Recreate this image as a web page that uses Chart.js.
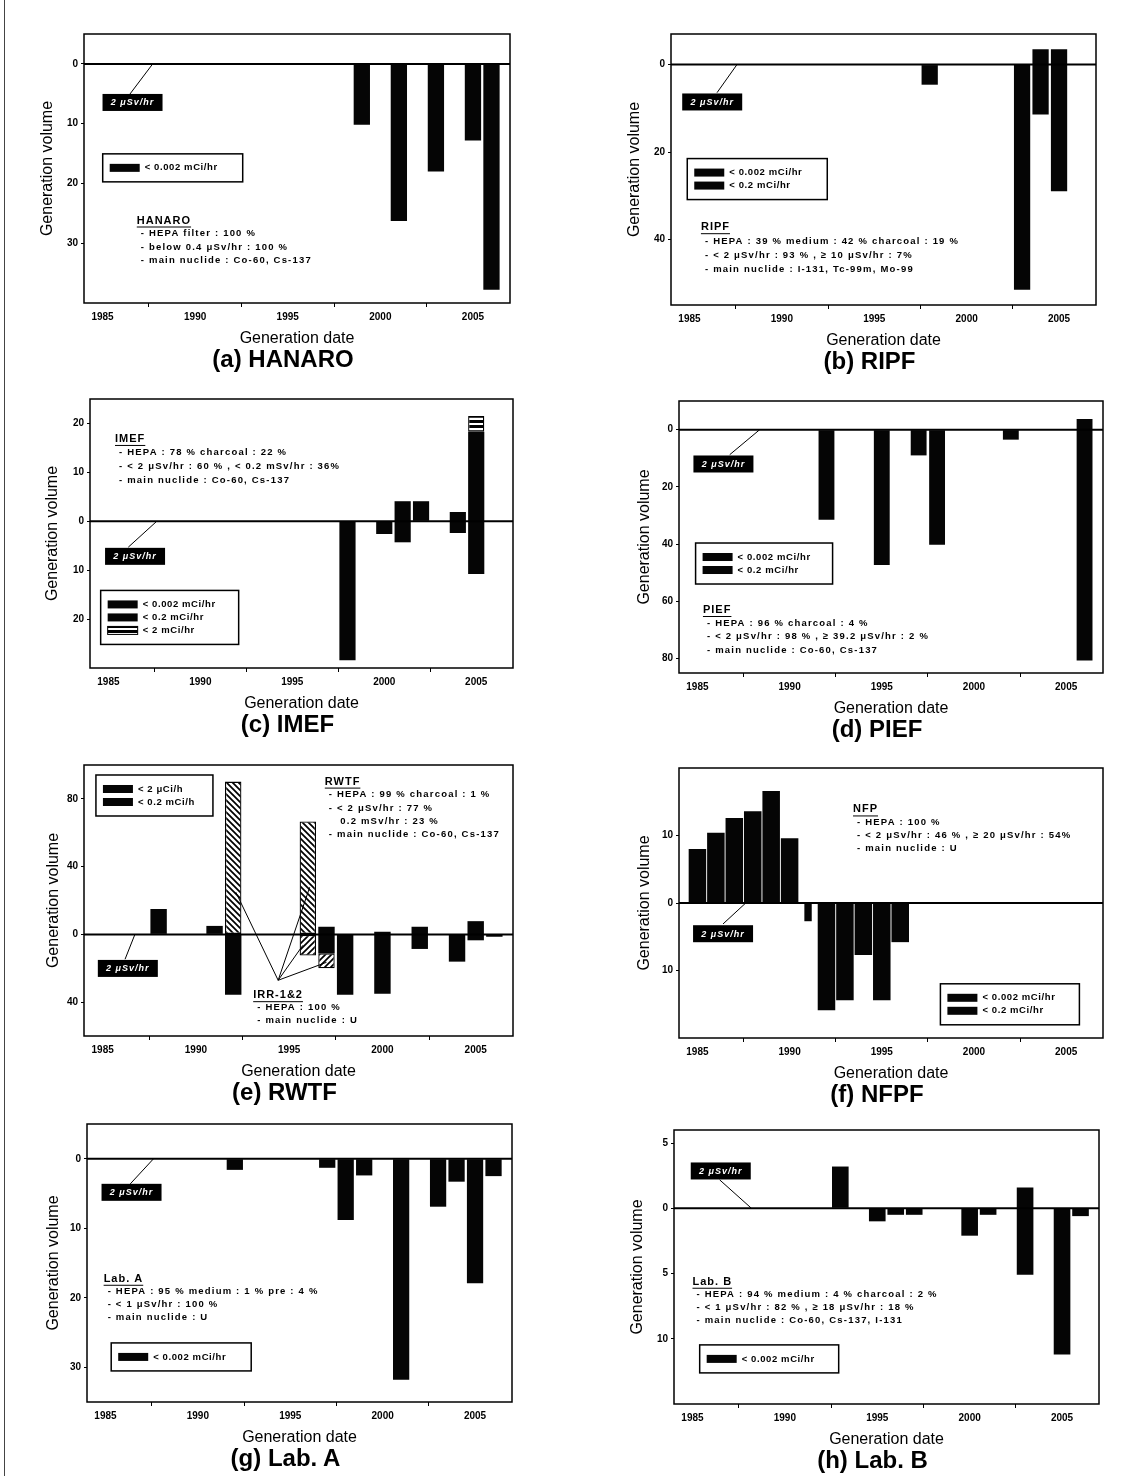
<!DOCTYPE html>
<html>
<head>
<meta charset="utf-8">
<script src="https://cdn.jsdelivr.net/npm/chart.js@4.4.1/dist/chart.umd.min.js"></script>
<style>
  body { margin: 0; background: #fff; }
  #page { position: relative; width: 1131px; height: 1476px; overflow: hidden; background: #fff; }
  #page canvas { position: absolute; }
  .cap { position: absolute; width: 300px; text-align: center; font: bold 24px 'Liberation Sans', Arial, sans-serif; line-height: 28px; color: #000; }
  .frame { position: absolute; left: 4px; top: 0; width: 1px; height: 1476px; background: #444; }
</style>
</head>
<body>
<div id="page"><div class="frame"></div></div>
<script>
const FONT = "'Liberation Sans', Arial, sans-serif";

const xTickYears = [1985, 1990, 1995, 2000, 2005];

// (a) HANARO
const hanaroYears = [1999, 2001, 2003, 2005, 2006];
const hanaroLow = [-10.2, -26.3, -18, -12.8, -37.8];
const hanaroHigh = [0, 0, 0, 0, 0];
const hanaroYTicks = [0, -10, -20, -30];

// (b) RIPF
const ripfYears = [1998, 2003, 2004, 2005];
const ripfLow = [-4.6, -51.5, -11.4, -29];
const ripfHigh = [0, 0, 3.5, 3.5];
const ripfYTicks = [0, -20, -40];

// (c) IMEF
const imefYears = [1998, 2000, 2001, 2002, 2004, 2005];
const imefLow = [-28.4, -2.6, -4.3, 0, -2.4, -10.8];
const imefHigh = [0, 0, 4.1, 4.1, 1.9, 18.3];
const imefStripeYears = [2005];
const imefStripeLow = [18.3];
const imefStripeHigh = [21.5];
const imefYTicks = [20, 10, 0, -10, -20];

// (d) PIEF
const piefYears = [1992, 1995, 1997, 1998, 2002, 2006];
const piefLow = [-31.5, -47.3, -9, -40.2, -3.5, -80.6];
const piefHigh = [0, 0, 0, 0, 0, 3.7];
const piefYTicks = [0, -20, -40, -60, -80];

// (e) RWTF
const rwtfYears = [1988, 1991, 1992, 1997, 1998, 2000, 2002, 2004, 2005, 2006];
const rwtfLow = [0, 0, -35.7, -11.2, -35.7, -35.1, -8.6, -16.1, -3.5, -1.4];
const rwtfHigh = [15, 5, 0, 4.5, 0, 1.6, 4.5, 0, 7.8, 0];
const irrUpperYears = [1992, 1996];
const irrUpperLow = [0, 0];
const irrUpperHigh = [90.2, 66.7];
const irrLowerYears = [1996, 1997];
const irrLowerLow = [-12.5, -20];
const irrLowerHigh = [0, -11.2];
const rwtfYTicks = [80, 40, 0, -40];

// (f) NFPF
const nfpfYears = [1985, 1986, 1987, 1988, 1989, 1990, 1992, 1993, 1994, 1995, 1996];
const nfpfLow = [0, 0, 0, 0, 0, 0, -15.9, -14.4, -7.7, -14.4, -5.8];
const nfpfHigh = [8, 10.4, 12.6, 13.6, 16.6, 9.6, 0, 0, 0, 0, 0];
const nfpfThinYears = [1991];
const nfpfThinLow = [-2.7];
const nfpfThinHigh = [0];
const nfpfYTicks = [10, 0, -10];

// (g) Lab. A
const labAYears = [1992, 1997, 1998, 1999, 2001, 2003, 2004, 2005, 2006];
const labALow = [-1.6, -1.3, -8.8, -2.4, -31.8, -6.9, -3.3, -17.9, -2.5];
const labAHigh = [0, 0, 0, 0, 0, 0, 0, 0, 0];
const labAYTicks = [0, -10, -20, -30];

// (h) Lab. B
const labBYears = [1993, 1995, 1996, 1997, 2000, 2001, 2003, 2005, 2006];
const labBLow = [0, -1, -0.5, -0.5, -2.1, -0.5, -5.1, -11.2, -0.6];
const labBHigh = [3.2, 0, 0, 0, 0, 0, 1.6, 0, 0];
const labBYTicks = [5, 0, -5, -10];

// hatch fills
function makePattern(kind) {
  const c = document.createElement('canvas');
  c.width = 6; c.height = kind === 'stripe' ? 5 : 6;
  const g = c.getContext('2d');
  g.fillStyle = '#fff';
  g.fillRect(0, 0, c.width, c.height);
  g.fillStyle = '#000';
  g.strokeStyle = '#000';
  g.lineWidth = 1.7;
  g.beginPath();
  if (kind === 'back') {
    g.moveTo(-1, -1); g.lineTo(7, 7);
    g.moveTo(-1, 5); g.lineTo(1, 7);
    g.moveTo(5, -1); g.lineTo(7, 1);
    g.stroke();
  } else if (kind === 'fwd') {
    g.moveTo(-1, 7); g.lineTo(7, -1);
    g.moveTo(-1, 1); g.lineTo(1, -1);
    g.moveTo(5, 7); g.lineTo(7, 5);
    g.stroke();
  } else {
    g.fillRect(0, 0, 6, 3);
  }
  return g.createPattern(c, 'repeat');
}
const fills = { solid: '#050505', back: makePattern('back'), fwd: makePattern('fwd'), stripe: makePattern('stripe') };

function bars(label, years, low, high, fill, pct) {
  return {
    label: label,
    data: years.map((yr, i) => ({ x: yr, y: [low[i], high[i]] })),
    backgroundColor: fills[fill],
    borderColor: '#000',
    borderWidth: fill === 'solid' ? 0 : 1.3,
    borderSkipped: false,
    grouped: false,
    categoryPercentage: 1,
    barPercentage: pct || 0.88
  };
}

// draws frame, zero line and the in-plot notes
const annotate = {
  id: 'annotate',
  afterDraw(chart, args, o) {
    const { ctx, chartArea: a } = chart;
    const px = v => chart.scales.x.getPixelForValue(v);
    const py = v => chart.scales.y.getPixelForValue(v);
    ctx.save();
    ctx.strokeStyle = '#000';
    ctx.fillStyle = '#000';

    ctx.lineWidth = 2;
    ctx.beginPath();
    ctx.moveTo(a.left, py(0));
    ctx.lineTo(a.right, py(0));
    ctx.stroke();

    ctx.lineWidth = 1.5;
    ctx.strokeRect(a.left, a.top, a.width, a.height);

    // leader lines
    ctx.lineWidth = 1;
    const t = o.tag;
    const links = (o.links || []).concat([[t.from[0], t.from[1], t.to[0], t.to[1]]]);
    links.forEach(l => {
      ctx.beginPath();
      ctx.moveTo(px(l[0]), py(l[1]));
      ctx.lineTo(px(l[2]), py(l[3]));
      ctx.stroke();
    });

    // level tag
    const tx = px(t.x), ty = py(t.y);
    ctx.fillRect(tx - 30, ty - 8.5, 60, 17);
    ctx.fillStyle = '#fff';
    ctx.font = 'italic bold 9px ' + FONT;
    ctx.letterSpacing = '1px';
    ctx.textAlign = 'center';
    ctx.textBaseline = 'middle';
    ctx.fillText('2 μSv/hr', tx, ty + 0.5);

    // legend box
    const lg = o.legend;
    const lx = px(lg.x), ly = py(lg.y);
    const lh = 28 + 13 * (lg.items.length - 1);
    ctx.fillStyle = '#fff';
    ctx.fillRect(lx, ly, lg.w, lh);
    ctx.lineWidth = 1.5;
    ctx.strokeRect(lx, ly, lg.w, lh);
    ctx.font = 'bold 9.5px ' + FONT;
    ctx.letterSpacing = '0.6px';
    ctx.textAlign = 'left';
    lg.items.forEach((it, i) => {
      const cy = ly + 14 + 13 * i;
      ctx.fillStyle = fills[it.fill];
      ctx.fillRect(lx + 7, cy - 4, 30, 8);
      if (it.fill !== 'solid') {
        ctx.lineWidth = 1;
        ctx.strokeRect(lx + 7, cy - 4, 30, 8);
      }
      ctx.fillStyle = '#000';
      ctx.fillText(it.label, lx + 42, cy);
    });

    // facility notes
    (o.notes || []).forEach(n => {
      const nx = px(n.x), ny = py(n.y);
      ctx.fillStyle = '#000';
      ctx.font = 'bold 11px ' + FONT;
      ctx.letterSpacing = '1px';
      ctx.fillText(n.title, nx, ny);
      const w = ctx.measureText(n.title).width;
      ctx.lineWidth = 1;
      ctx.beginPath();
      ctx.moveTo(nx, ny + 6.5);
      ctx.lineTo(nx + w, ny + 6.5);
      ctx.stroke();
      ctx.font = 'bold 9.5px ' + FONT;
      ctx.letterSpacing = '1.2px';
      n.lines.forEach((s, i) => ctx.fillText(s, nx + 4, ny + n.gap * (i + 1)));
    });
    ctx.letterSpacing = '0px';
    ctx.restore();
  }
};

const panels = [
  {
    name: '(a) HANARO', rect: [84, 33, 510, 303], gap: 36, yMin: -40, yMax: 5, yTicks: hanaroYTicks,
    datasets: [bars('< 0.002 mCi/hr', hanaroYears, hanaroLow, hanaroHigh, 'solid')],
    notes: {
      tag: { x: 1986.62, y: -6.45, from: [1986.48, -5.05], to: [1987.71, 0] },
      legend: { x: 1985.01, y: -15.05, w: 140, items: [{ label: '< 0.002 mCi/hr', fill: 'solid' }] },
      notes: [{ x: 1986.85, y: -26.2, gap: 13.3, title: 'HANARO',
        lines: ['- HEPA filter : 100 %', '- below 0.4 μSv/hr : 100 %', '- main nuclide : Co-60, Cs-137'] }]
    }
  },
  {
    name: '(b) RIPF', rect: [671, 33, 1096, 305], gap: 36, yMin: -55, yMax: 7, yTicks: ripfYTicks,
    datasets: [bars('< 0.002 mCi/hr', ripfYears, ripfLow, ripfHigh, 'solid')],
    notes: {
      tag: { x: 1986.23, y: -8.55, from: [1986.49, -6.43], to: [1987.57, 0] },
      legend: { x: 1984.88, y: -21.5, w: 140, items: [{ label: '< 0.002 mCi/hr', fill: 'solid' }, { label: '< 0.2 mCi/hr', fill: 'solid' }] },
      notes: [{ x: 1985.62, y: -37.2, gap: 14, title: 'RIPF',
        lines: ['- HEPA : 39 % medium : 42 % charcoal : 19 %', '- < 2 μSv/hr : 93 % , ≥ 10 μSv/hr : 7%', '- main nuclide : I-131, Tc-99m, Mo-99'] }]
    }
  },
  {
    name: '(c) IMEF', rect: [90, 398, 513, 668], gap: 37, yMin: -30, yMax: 25, yTicks: imefYTicks,
    datasets: [
      bars('< 0.002 mCi/hr', imefYears, imefLow, imefHigh, 'solid'),
      bars('< 2 mCi/hr', imefStripeYears, imefStripeLow, imefStripeHigh, 'stripe')
    ],
    notes: {
      tag: { x: 1986.45, y: -7.17, from: [1986.08, -5.3], to: [1987.63, 0] },
      legend: { x: 1984.58, y: -14.14, w: 138, items: [{ label: '< 0.002 mCi/hr', fill: 'solid' }, { label: '< 0.2 mCi/hr', fill: 'solid' }, { label: '< 2 mCi/hr', fill: 'stripe' }] },
      notes: [{ x: 1985.36, y: 16.83, gap: 13.7, title: 'IMEF',
        lines: ['- HEPA : 78 % charcoal : 22 %', '- < 2 μSv/hr : 60 % , < 0.2 mSv/hr : 36%', '- main nuclide : Co-60, Cs-137'] }]
    }
  },
  {
    name: '(d) PIEF', rect: [679, 400, 1103, 673], gap: 34, yMin: -85, yMax: 10, yTicks: piefYTicks,
    datasets: [bars('< 0.002 mCi/hr', piefYears, piefLow, piefHigh, 'solid', 0.86)],
    notes: {
      tag: { x: 1986.41, y: -12.0, from: [1986.75, -8.76], to: [1988.38, 0] },
      legend: { x: 1984.9, y: -39.6, w: 137, items: [{ label: '< 0.002 mCi/hr', fill: 'solid' }, { label: '< 0.2 mCi/hr', fill: 'solid' }] },
      notes: [{ x: 1985.3, y: -63, gap: 13.3, title: 'PIEF',
        lines: ['- HEPA : 96 % charcoal : 4 %', '- < 2 μSv/hr : 98 % , ≥ 39.2 μSv/hr : 2 %', '- main nuclide : Co-60, Cs-137'] }]
    }
  },
  {
    name: '(e) RWTF', rect: [84, 764, 513, 1036], gap: 30, yMin: -60, yMax: 100, yTicks: rwtfYTicks,
    datasets: [
      bars('< 2 μCi/h', rwtfYears, rwtfLow, rwtfHigh, 'solid'),
      bars('IRR-1&2 upper', irrUpperYears, irrUpperLow, irrUpperHigh, 'back'),
      bars('IRR-1&2 lower', irrLowerYears, irrLowerLow, irrLowerHigh, 'fwd')
    ],
    notes: {
      tag: { x: 1986.35, y: -20.1, from: [1986.2, -14.7], to: [1986.73, 0] },
      legend: { x: 1984.64, y: 94.1, w: 117, items: [{ label: '< 2 μCi/h', fill: 'solid' }, { label: '< 0.2 mCi/h', fill: 'solid' }] },
      links: [
        [1994.41, -27.1, 1992.14, 24.9],
        [1994.41, -27.1, 1996.1, 27.8],
        [1994.41, -27.1, 1995.73, -6.5],
        [1994.41, -27.1, 1997.0, -16.5]
      ],
      notes: [
        { x: 1996.91, y: 90.2, gap: 13.2, title: 'RWTF',
          lines: ['- HEPA : 99 % charcoal : 1 %', '- < 2 μSv/hr : 77 %', '   0.2 mSv/hr : 23 %', '- main nuclide : Co-60, Cs-137'] },
        { x: 1993.07, y: -35.9, gap: 12.5, title: 'IRR-1&2',
          lines: ['- HEPA : 100 %', '- main nuclide : U'] }
      ]
    }
  },
  {
    name: '(f) NFPF', rect: [679, 767, 1103, 1038], gap: 34, yMin: -20, yMax: 20, yTicks: nfpfYTicks,
    datasets: [
      bars('< 0.002 mCi/hr', nfpfYears, nfpfLow, nfpfHigh, 'solid', 0.95),
      bars('< 0.2 mCi/hr', nfpfThinYears, nfpfThinLow, nfpfThinHigh, 'solid', 0.4)
    ],
    notes: {
      tag: { x: 1986.39, y: -4.55, from: [1986.39, -3.1], to: [1987.62, 0] },
      legend: { x: 1998.18, y: -11.97, w: 139, items: [{ label: '< 0.002 mCi/hr', fill: 'solid' }, { label: '< 0.2 mCi/hr', fill: 'solid' }] },
      notes: [{ x: 1993.44, y: 13.86, gap: 13, title: 'NFP',
        lines: ['- HEPA : 100 %', '- < 2 μSv/hr : 46 % , ≥ 20 μSv/hr : 54%', '- main nuclide : U'] }]
    }
  },
  {
    name: '(g) Lab. A', rect: [87, 1123, 512, 1402], gap: 33, yMin: -35, yMax: 5, yTicks: labAYTicks,
    datasets: [bars('< 0.002 mCi/hr', labAYears, labALow, labAHigh, 'solid')],
    notes: {
      tag: { x: 1986.41, y: -4.83, from: [1986.34, -3.62], to: [1987.6, 0] },
      legend: { x: 1985.31, y: -26.5, w: 140, items: [{ label: '< 0.002 mCi/hr', fill: 'solid' }] },
      notes: [{ x: 1984.9, y: -17.27, gap: 13, title: 'Lab. A',
        lines: ['- HEPA : 95 % medium : 1 % pre : 4 %', '- < 1 μSv/hr : 100 %', '- main nuclide : U'] }]
    }
  },
  {
    name: '(h) Lab. B', rect: [674, 1129, 1099, 1404], gap: 36, yMin: -15, yMax: 6, yTicks: labBYTicks,
    datasets: [bars('< 0.002 mCi/hr', labBYears, labBLow, labBHigh, 'solid', 0.9)],
    notes: {
      tag: { x: 1986.53, y: 2.86, from: [1986.47, 2.18], to: [1988.19, 0] },
      legend: { x: 1985.39, y: -10.47, w: 139, items: [{ label: '< 0.002 mCi/hr', fill: 'solid' }] },
      notes: [{ x: 1985.0, y: -5.63, gap: 12.8, title: 'Lab. B',
        lines: ['- HEPA : 94 % medium : 4 % charcoal : 2 %', '- < 1 μSv/hr : 82 % , ≥ 18 μSv/hr : 18 %', '- main nuclide : Co-60, Cs-137, I-131'] }]
    }
  }
];

const page = document.getElementById('page');
const X_AXIS_H = 45, PAD = 8;

panels.forEach(p => {
  const [L, T, R, B] = p.rect;
  const W = p.gap + 10;
  const canvas = document.createElement('canvas');
  const cw = R - L + W + PAD, ch = B - T + PAD + X_AXIS_H;
  canvas.width = cw; canvas.height = ch;
  canvas.style.left = (L - W) + 'px';
  canvas.style.top = (T - PAD) + 'px';
  canvas.style.width = cw + 'px';
  canvas.style.height = ch + 'px';
  page.appendChild(canvas);

  const cap = document.createElement('div');
  cap.className = 'cap';
  cap.textContent = p.name;
  cap.style.left = ((L + R) / 2 - 14 - 150) + 'px';
  cap.style.top = (B + 56 - 14) + 'px';
  page.appendChild(cap);

  new Chart(canvas.getContext('2d'), {
    type: 'bar',
    data: { datasets: p.datasets },
    options: {
      responsive: false,
      animation: false,
      layout: { padding: { top: PAD, right: PAD, left: 0, bottom: 0 } },
      plugins: {
        legend: { display: false },
        tooltip: { enabled: false },
        annotate: p.notes
      },
      scales: {
        x: {
          type: 'linear',
          min: 1984,
          max: 2007,
          offset: false,
          afterBuildTicks: s => { s.ticks = xTickYears.map(v => ({ value: v })); },
          afterFit: s => { s.height = X_AXIS_H; },
          ticks: {
            autoSkip: false, maxRotation: 0, padding: 4, color: '#000',
            font: { family: FONT, size: 10, weight: 'bold' },
            callback: v => String(v)
          },
          grid: { drawOnChartArea: false, tickLength: 4, color: '#000', tickColor: '#000' },
          border: { display: false },
          title: { display: true, text: 'Generation date', color: '#000', padding: 0, font: { family: FONT, size: 16 } }
        },
        y: {
          min: p.yMin,
          max: p.yMax,
          afterBuildTicks: s => { s.ticks = p.yTicks.map(v => ({ value: v })); },
          afterFit: s => { s.width = W; },
          ticks: {
            autoSkip: false, padding: 3, color: '#000',
            font: { family: FONT, size: 10, weight: 'bold' },
            callback: v => String(Math.abs(v))
          },
          grid: { drawOnChartArea: false, tickLength: 3, color: '#000', tickColor: '#000' },
          border: { display: false },
          title: { display: true, text: 'Generation volume', color: '#000', padding: 0, font: { family: FONT, size: 16 } }
        }
      }
    },
    plugins: [annotate]
  });
});
</script>
</body>
</html>
